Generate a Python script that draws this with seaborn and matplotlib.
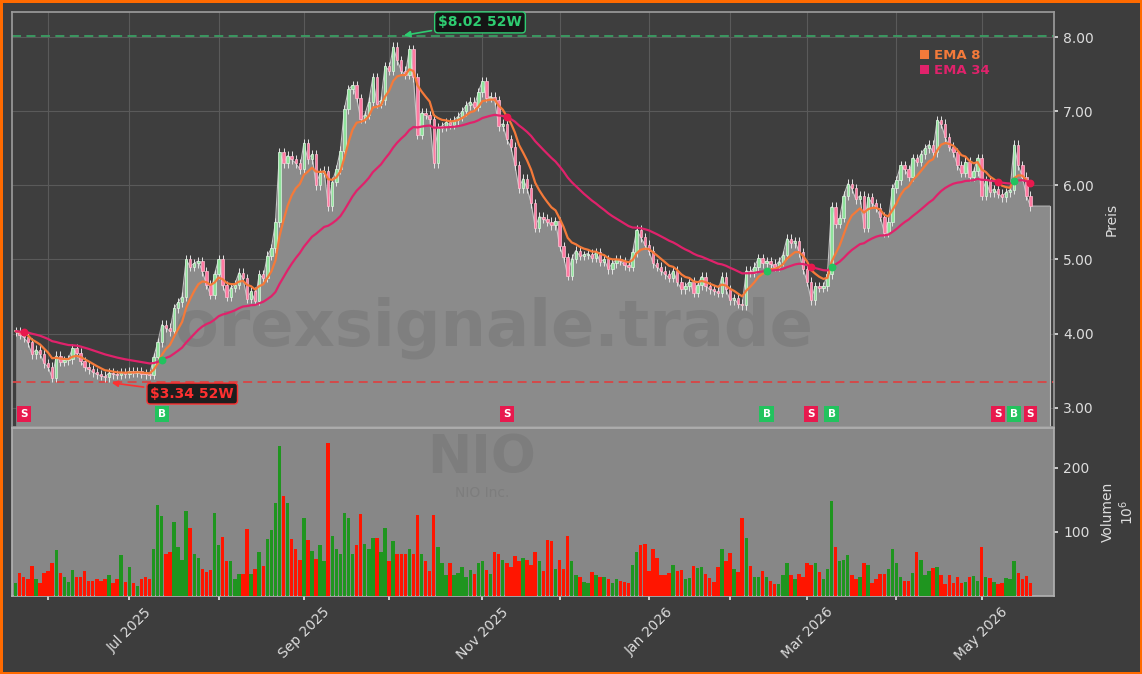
import numpy as np
import pandas as pd
import matplotlib
matplotlib.use("Agg")
import matplotlib.pyplot as plt
import matplotlib.transforms as mtransforms
from matplotlib.patches import Patch
from matplotlib.ticker import FormatStrFormatter
import seaborn as sns

# --- data ---
start_day = "2025-05-20"
end_day = "2026-05-19"
holidays = ["2025-05-26", "2025-06-19", "2025-07-04", "2025-09-01", "2025-11-27",
            "2025-12-25", "2026-01-01", "2026-01-19", "2026-02-16", "2026-04-03"]

closes = [
    4.03, 3.98, 3.95, 3.88, 3.72, 3.78, 3.73, 3.60, 3.55, 3.40,
    3.70, 3.62, 3.64, 3.65, 3.80, 3.74, 3.63, 3.55, 3.52, 3.48,
    3.45, 3.43, 3.41, 3.47, 3.45, 3.44, 3.47, 3.46, 3.49, 3.47,
    3.49, 3.46, 3.45, 3.44, 3.68, 3.88, 4.12, 4.08, 4.03, 4.34,
    4.42, 4.50, 5.00, 4.90, 4.95, 4.98, 4.84, 4.66, 4.52, 4.80,
    5.00, 4.65, 4.50, 4.62, 4.66, 4.82, 4.75, 4.47, 4.57, 4.44,
    4.80, 4.75, 5.05, 5.15, 5.50, 6.45, 6.30, 6.40, 6.35, 6.30,
    6.22, 6.57, 6.35, 6.42, 6.00, 6.17, 6.20, 5.72, 6.05, 6.22,
    6.47, 7.03, 7.30, 7.35, 7.18, 6.90, 6.95, 7.13, 7.46, 7.10,
    7.15, 7.61, 7.55, 7.87, 7.69, 7.55, 7.49, 7.84, 7.46, 6.68,
    6.98, 6.95, 6.90, 6.30, 6.78, 6.80, 6.85, 6.82, 6.88, 6.93,
    7.00, 7.08, 7.13, 7.06, 7.26, 7.41, 7.18, 7.20, 7.15, 6.80,
    6.83, 6.62, 6.52, 6.27, 5.96, 6.09, 5.96, 5.76, 5.43, 5.58,
    5.55, 5.51, 5.46, 5.52, 5.18, 5.03, 4.78, 5.01, 5.12, 5.05,
    5.06, 5.08, 5.02, 5.10, 4.97, 5.00, 4.87, 4.95, 5.00, 4.98,
    4.92, 4.90, 5.10, 5.40, 5.30, 5.20, 5.12, 4.95, 4.90, 4.85,
    4.80, 4.75, 4.85, 4.70, 4.60, 4.64, 4.70, 4.55, 4.65, 4.77,
    4.64, 4.60, 4.58, 4.55, 4.77, 4.60, 4.45, 4.48, 4.40, 4.38,
    4.85, 4.82, 4.90, 5.02, 4.95, 4.98, 4.94, 4.90, 4.97, 5.06,
    5.28, 5.22, 5.25, 5.10, 4.87, 4.70, 4.45, 4.64, 4.62, 4.64,
    4.80, 5.71, 5.48, 5.56, 5.86, 6.02, 5.96, 5.81, 5.86, 5.43,
    5.84, 5.76, 5.70, 5.58, 5.36, 5.51, 5.96, 6.07, 6.27, 6.22,
    6.12, 6.37, 6.32, 6.42, 6.50, 6.55, 6.45, 6.88, 6.83, 6.65,
    6.52, 6.45, 6.27, 6.17, 6.32, 6.12, 6.19, 6.37, 5.86, 6.07,
    5.91, 5.95, 5.89, 5.84, 5.91, 5.94, 6.55, 6.27, 6.12, 5.86,
    5.72,
]

# volume in millions
volumes = [
    21, 36, 30, 27, 46, 26, 21, 36, 39, 51,
    71, 36, 30, 22, 40, 30, 30, 39, 24, 24,
    26, 24, 27, 32, 20, 27, 64, 22, 45, 21,
    15, 27, 30, 26, 73, 142, 124, 65, 68, 115,
    77, 56, 133, 106, 65, 59, 42, 38, 40, 130,
    80, 92, 54, 54, 27, 35, 35, 105, 35, 42,
    68, 46, 89, 103, 145, 234, 156, 145, 89, 74,
    56, 122, 87, 70, 58, 80, 54, 238, 94, 74,
    66, 130, 122, 65, 79, 128, 81, 74, 91, 91,
    68, 106, 55, 86, 66, 65, 65, 74, 65, 126,
    65, 55, 39, 126, 76, 51, 33, 51, 33, 36,
    45, 30, 41, 35, 51, 54, 41, 35, 68, 65,
    56, 52, 45, 62, 54, 59, 56, 48, 68, 54,
    39, 87, 86, 42, 56, 42, 93, 55, 33, 30,
    22, 21, 38, 33, 30, 30, 27, 20, 27, 23,
    22, 21, 48, 68, 80, 81, 39, 74, 59, 33,
    33, 36, 49, 39, 40, 27, 28, 46, 44, 45,
    35, 28, 22, 45, 73, 55, 67, 42, 37, 122,
    90, 46, 30, 30, 39, 30, 24, 18, 18, 33,
    51, 33, 26, 35, 30, 51, 49, 51, 38, 27,
    42, 148, 77, 55, 56, 64, 33, 26, 29, 52,
    48, 21, 26, 35, 35, 42, 73, 52, 30, 24,
    24, 36, 68, 56, 33, 39, 43, 45, 33, 18,
    32, 21, 30, 21, 22, 30, 31, 24, 77, 30,
    28, 22, 18, 20, 28, 26, 55, 36, 26, 31,
    20,
]

high_52w, high_idx = 8.02, 95
low_52w, low_idx = 3.34, 23
sell_idx = [2, 121, 196, 242, 250]
buy_idx = [36, 185, 201, 246]

# --- prep ---
dates = pd.bdate_range(start_day, end_day, freq="C", holidays=holidays)
n = len(closes)
dates = dates[:n]
x = np.arange(n)
c = np.array(closes)
o = np.r_[c[0], c[:-1]]
up = c >= o
lo = np.minimum(o, c)
hi = np.maximum(o, c)
df = pd.DataFrame({"x": x, "close": c})
df["ema8"] = df["close"].ewm(span=8, adjust=False).mean()
df["ema34"] = df["close"].ewm(span=34, adjust=False).mean()

bg = "#3d3d3d"
orange = "#f47a3a"
pink = "#e0226b"
sig_red = "#e8194e"
sig_green = "#22c35e"

sns.set_theme(style="dark", rc={
    "figure.facecolor": bg, "axes.facecolor": "#3e3e3e",
    "axes.edgecolor": "#9a9a9a", "grid.color": "#5a5a5a",
    "text.color": "#dddddd", "xtick.color": "#dddddd",
    "ytick.color": "#dddddd", "axes.labelcolor": "#dddddd",
})
plt.rcParams["font.family"] = ["DejaVu Sans"]

fig = plt.figure(figsize=(11.42, 6.74), dpi=100)
fig.patch.set_edgecolor("#ff6a00")
fig.patch.set_linewidth(3.5)
ax = fig.add_axes([0.0105, 0.3665, 0.9124, 0.6157])
axv = fig.add_axes([0.0105, 0.1157, 0.9124, 0.2493], sharex=ax)

ybot = low_52w * 0.82
ytop = high_52w * 1.04
xmax = n + 4.8

# price panel
ax.grid(True, color="#5a5a5a", lw=0.8)
ax.set_axisbelow(True)
ax.fill_between(np.r_[x, n + 3.8], np.r_[c, c[-1]], ybot, color="#8b8b8b", lw=0, zorder=1)
ax.plot(np.r_[x, n + 3.8], np.r_[c, c[-1]], color="#c4c4c4", lw=0.8, zorder=1.2)
ax.plot([n + 3.8, n + 3.8], [ybot, c[-1]], color="#c4c4c4", lw=0.8, zorder=1.2)

ax.text(0.45, 0.24, "forexsignale.trade", transform=ax.transAxes, fontsize=46,
        fontweight="bold", color="#444444", alpha=0.16, ha="center", va="center", zorder=1.5)

ax.axhline(high_52w, color="#3a9f63", ls=(0, (5, 3)), lw=1.3, zorder=2)
ax.axhline(low_52w, color="#d94545", ls=(0, (5, 3)), lw=1.3, zorder=2)

wick = 0.06
ax.vlines(x, lo - wick, hi + wick, color="#e4e4e4", lw=0.7, zorder=3)
ax.bar(x[up], np.maximum(hi - lo, 0.02)[up], bottom=lo[up], width=0.6,
       color="#8fe39b", edgecolor="#e0f5e3", lw=0.5, zorder=4)
ax.bar(x[~up], np.maximum(hi - lo, 0.02)[~up], bottom=lo[~up], width=0.6,
       color="#ff7aa2", edgecolor="#ffc0d2", lw=0.5, zorder=4)

sns.lineplot(data=df, x="x", y="ema8", color=orange, lw=1.6, ax=ax, zorder=5)
sns.lineplot(data=df, x="x", y="ema34", color=pink, lw=1.6, ax=ax, zorder=5)

trans = mtransforms.blended_transform_factory(ax.transData, ax.transAxes)
for i in sell_idx:
    ax.scatter(i, df["ema34"][i], s=32, color=sig_red, zorder=6, lw=0)
    ax.text(i, 0.032, "S", transform=trans, ha="center", va="center", fontsize=7.5,
            fontweight="bold", color="white", zorder=7,
            bbox=dict(boxstyle="square,pad=0.3", fc=sig_red, ec="none"))
for i in buy_idx:
    ax.scatter(i, df["ema34"][i], s=32, color=sig_green, zorder=6, lw=0)
    ax.text(i, 0.032, "B", transform=trans, ha="center", va="center", fontsize=7.5,
            fontweight="bold", color="white", zorder=7,
            bbox=dict(boxstyle="square,pad=0.3", fc=sig_green, ec="none"))

ax.annotate(r"\$%.2f 52W" % high_52w, xy=(high_idx, high_52w), xytext=(114.4, 8.2),
            color="#2ecc71", fontsize=10, fontweight="bold", ha="center", va="center", zorder=8,
            bbox=dict(boxstyle="round,pad=0.25", fc="#151515", ec="#2ecc71", lw=1),
            arrowprops=dict(arrowstyle="-|>", color="#2ecc71", lw=1.2, mutation_scale=9))
ax.annotate(r"\$%.2f 52W" % low_52w, xy=(low_idx, low_52w), xytext=(43.5, 3.19),
            color="#ff3030", fontsize=10, fontweight="bold", ha="center", va="center", zorder=8,
            bbox=dict(boxstyle="round,pad=0.25", fc="#1e1e1e", ec="#ff3030", lw=1),
            arrowprops=dict(arrowstyle="-|>", color="#ff3030", lw=1.2, mutation_scale=9))

leg = ax.legend(handles=[Patch(facecolor=orange, edgecolor="none"),
                         Patch(facecolor=pink, edgecolor="none")],
                labels=["EMA 8", "EMA 34"], loc="upper left", bbox_to_anchor=(0.86, 0.94),
                frameon=False, handlelength=0.7, handleheight=0.7, handletextpad=0.4,
                labelspacing=0.15, labelcolor=[orange, pink], prop={"weight": "bold", "size": 9.5})

ax.set_xlim(-0.9, xmax)
ax.set_ylim(ybot, ytop)
ax.set_yticks([3, 4, 5, 6, 7, 8])
ax.yaxis.set_major_formatter(FormatStrFormatter("%.2f"))
ax.yaxis.tick_right()
ax.yaxis.set_label_position("right")
ax.set_ylabel("Preis", fontsize=10, labelpad=8)
ax.set_xlabel("")
ax.tick_params(axis="y", right=True, length=3, labelsize=10)
ax.tick_params(axis="x", bottom=False, labelbottom=False)
for s in ax.spines.values():
    s.set_color("#9a9a9a")

# volume panel
axv.set_facecolor("#878787")
axv.bar(x, volumes, width=0.85, color=np.where(up, "#1f951f", "#ff1500"), lw=0, zorder=3)
axv.text(0.451, 0.82, "NIO", transform=axv.transAxes, fontsize=38, fontweight="bold",
         color="#444444", alpha=0.15, ha="center", va="center", zorder=1)
axv.text(0.451, 0.615, "NIO Inc.", transform=axv.transAxes, fontsize=10,
         color="#444444", alpha=0.15, ha="center", va="center", zorder=1)
axv.set_ylim(0, max(volumes) * 1.1)
axv.set_yticks([100, 200])
axv.yaxis.tick_right()
axv.yaxis.set_label_position("right")
axv.set_ylabel("Volumen\n$10^6$", fontsize=10, labelpad=8)
axv.tick_params(axis="y", right=True, length=3, labelsize=10)
axv.grid(False)
for s in axv.spines.values():
    s.set_color("#b0b0b0")

month_first = [i for i in range(1, n) if dates[i].month != dates[i - 1].month]
labels = [dates[i].strftime("%b %Y") if dates[i].month % 2 == 1 else "" for i in month_first]
axv.set_xticks(month_first)
axv.set_xticklabels(labels, rotation=45, ha="center", fontsize=10)
axv.tick_params(axis="x", bottom=True, length=3)
axv.set_xlabel("")

plt.savefig("out.png", dpi=100, facecolor=fig.get_facecolor(), edgecolor=fig.get_edgecolor())
